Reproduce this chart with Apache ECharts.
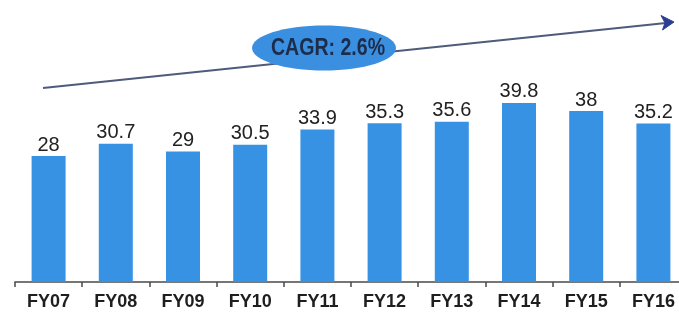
<!DOCTYPE html>
<html>
<head>
<meta charset="utf-8">
<style>
  html, body { margin: 0; padding: 0; background: #ffffff; }
  #chart { width: 679px; height: 312px; }
</style>
<script src="https://cdn.jsdelivr.net/npm/echarts@6/dist/echarts.min.js"></script>
</head>
<body>
<div id="chart"></div>
<script>
const categories = ['FY07', 'FY08', 'FY09', 'FY10', 'FY11', 'FY12', 'FY13', 'FY14', 'FY15', 'FY16'];
const values = [28, 30.7, 29, 30.5, 33.9, 35.3, 35.6, 39.8, 38, 35.2];
const cagrText = 'CAGR: 2.6%';

const chart = echarts.init(document.getElementById('chart'), null, { renderer: 'canvas' });

const option = {
  animation: false,
  backgroundColor: '#ffffff',
  grid: { left: 15, right: -8, top: 102, bottom: 30, containLabel: false, outerBoundsMode: 'none' },
  xAxis: {
    type: 'category',
    data: categories,
    boundaryGap: true,
    axisLine: { show: true, lineStyle: { color: '#4a4a4a', width: 1.5 } },
    axisTick: { show: true, length: 5, lineStyle: { color: '#4a4a4a', width: 1.5 } },
    axisLabel: {
      margin: 11,
      color: '#1e1e1e',
      fontFamily: 'Liberation Sans, Arial, sans-serif',
      fontSize: 18,
      fontWeight: 'bold',
      hideOverlap: false
    }
  },
  yAxis: {
    type: 'value',
    min: 0,
    max: 40,
    show: false,
    splitLine: { show: false }
  },
  series: [{
    type: 'bar',
    data: values,
    barWidth: 34,
    itemStyle: { color: '#3792e4' },
    label: {
      show: true,
      position: 'top',
      distance: 1,
      color: '#222222',
      fontFamily: 'Liberation Sans, Arial, sans-serif',
      fontSize: 20,
      fontWeight: 500
    }
  }],
  graphic: [
    {
      type: 'line',
      shape: { x1: 43, y1: 88, x2: 666, y2: 23 },
      style: { stroke: '#4f5b7a', lineWidth: 2 },
      z: 10
    },
    {
      type: 'polygon',
      shape: { points: [[674, 22], [661, 15.5], [665, 22.8], [662.5, 30]] },
      style: { fill: '#2b3f92', stroke: '#2b3f92', lineWidth: 1 },
      z: 11
    },
    {
      type: 'ellipse',
      shape: { cx: 324, cy: 48, rx: 72, ry: 22.5 },
      style: { fill: '#3b8fe0' },
      z: 12
    },
    {
      type: 'text',
      x: 328,
      y: 49,
      scaleX: 0.85,
      style: {
        text: cagrText,
        fill: '#1c2d4c',
        font: 'bold 23px "Liberation Sans", Arial, sans-serif',
        align: 'center',
        verticalAlign: 'middle'
      },
      z: 13
    }
  ]
};

chart.setOption(option);
</script>
</body>
</html>
